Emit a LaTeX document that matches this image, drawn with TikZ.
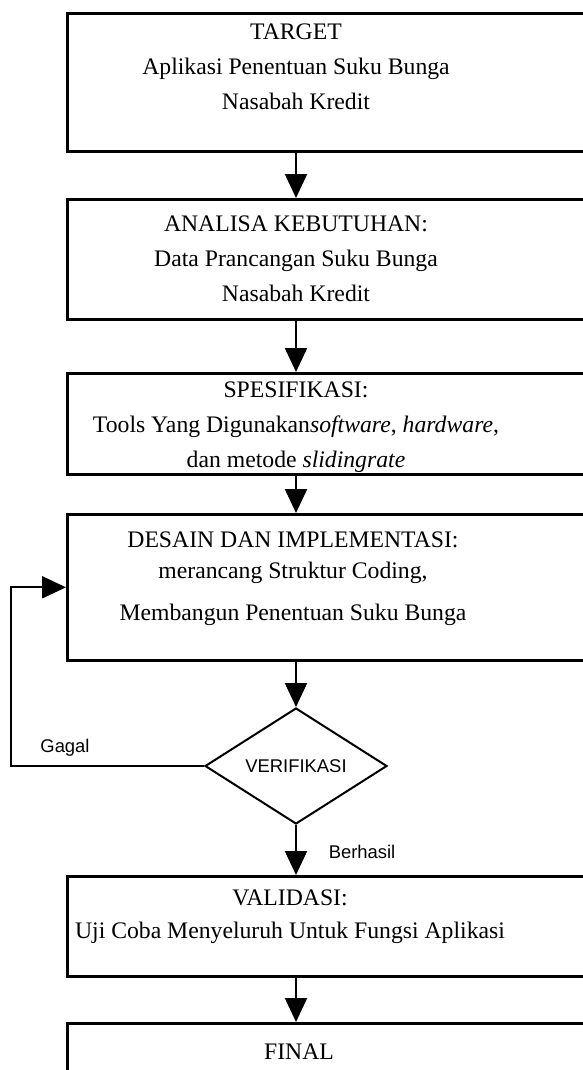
\documentclass[tikz,border=0pt]{standalone}
\usepackage{fontspec}
\setmainfont{Liberation Serif}
\newfontfamily\labelfont{Liberation Sans}
\usetikzlibrary{shapes.geometric, positioning, arrows.meta}

\begin{document}
\begin{tikzpicture}[
      x=0.5pt, y=-0.5pt,
      stepbox/.style={draw, line width=1.3pt, anchor=north west, minimum width=270pt, inner sep=0pt},
      steptext/.style={align=center, inner sep=0pt, font=\fontsize{11.85}{17.5}\selectfont},
      decision/.style={draw, diamond, line width=1pt, aspect=1.57, minimum width=91pt, minimum height=58pt, inner sep=0pt, font=\labelfont\fontsize{9.2}{11}\selectfont},
      flowarrow/.style={-{Triangle[length=12pt, width=11pt]}, line width=1.1pt},
      tag/.style={inner sep=0pt, font=\labelfont\fontsize{9.2}{11}\selectfont}
    ]
      \useasboundingbox (0,0) rectangle (583,1070);
      \clip (0,0) rectangle (583,1070);
      \coordinate (axis) at (296,0);

      \node[stepbox, minimum height=69pt] (target) at (66,12) {};
      \node[stepbox, minimum height=60pt] (analisa) at (66,198) {};
      \node[stepbox, minimum height=50.5pt] (spesifikasi) at (66,372) {};
      \node[stepbox, minimum height=73pt] (desain) at (66,513) {};
      \node[decision] (verif) at (296,766) {VERIFIKASI};
      \node[stepbox, minimum height=50pt] (validasi) at (66,875) {};
      \node[stepbox, minimum height=40pt] (final) at (66,1022) {};

      \node[steptext] (targettxt) at (296,67) {TARGET\\Aplikasi Penentuan Suku Bunga\\Nasabah Kredit};
      \node[steptext] (analisatxt) at (296,259) {ANALISA KEBUTUHAN:\\Data Prancangan Suku Bunga\\Nasabah Kredit};
      \node[steptext] (spesifikasitxt) at (296,427) {SPESIFIKASI:\\Tools Yang Digunakan\textit{software}, \textit{hardware},\\dan metode \textit{slidingrate}};
      \node[steptext] (desaintxt) at (293,579) {DESAIN DAN IMPLEMENTASI:\\[-2pt]merancang Struktur Coding,\\[3.5pt]Membangun Penentuan Suku Bunga};
      \node[steptext] (validasitxt) at (290,917) {VALIDASI:\\[-1pt]Uji Coba Menyeluruh Untuk Fungsi Aplikasi};
      \node[steptext] (finaltxt) at (299,1052) {FINAL};

      \node[tag] (gagal) at (65,748) {Gagal};
      \node[tag] (berhasil) at (362,852) {Berhasil};

      \draw[flowarrow] (target.south -| axis) -- (analisa.north -| axis);
      \draw[flowarrow] (analisa.south -| axis) -- (spesifikasi.north -| axis);
      \draw[flowarrow] (spesifikasi.south -| axis) -- (desain.north -| axis);
      \draw[flowarrow] (desain.south -| axis) -- (verif.north);
      \draw[flowarrow] (verif.south) -- (validasi.north -| axis);
      \draw[flowarrow] (validasi.south -| axis) -- (final.north -| axis);
      \draw[flowarrow] (verif.west) -- ++(-193,0) |- (desain.west);
    \end{tikzpicture}
\end{document}
